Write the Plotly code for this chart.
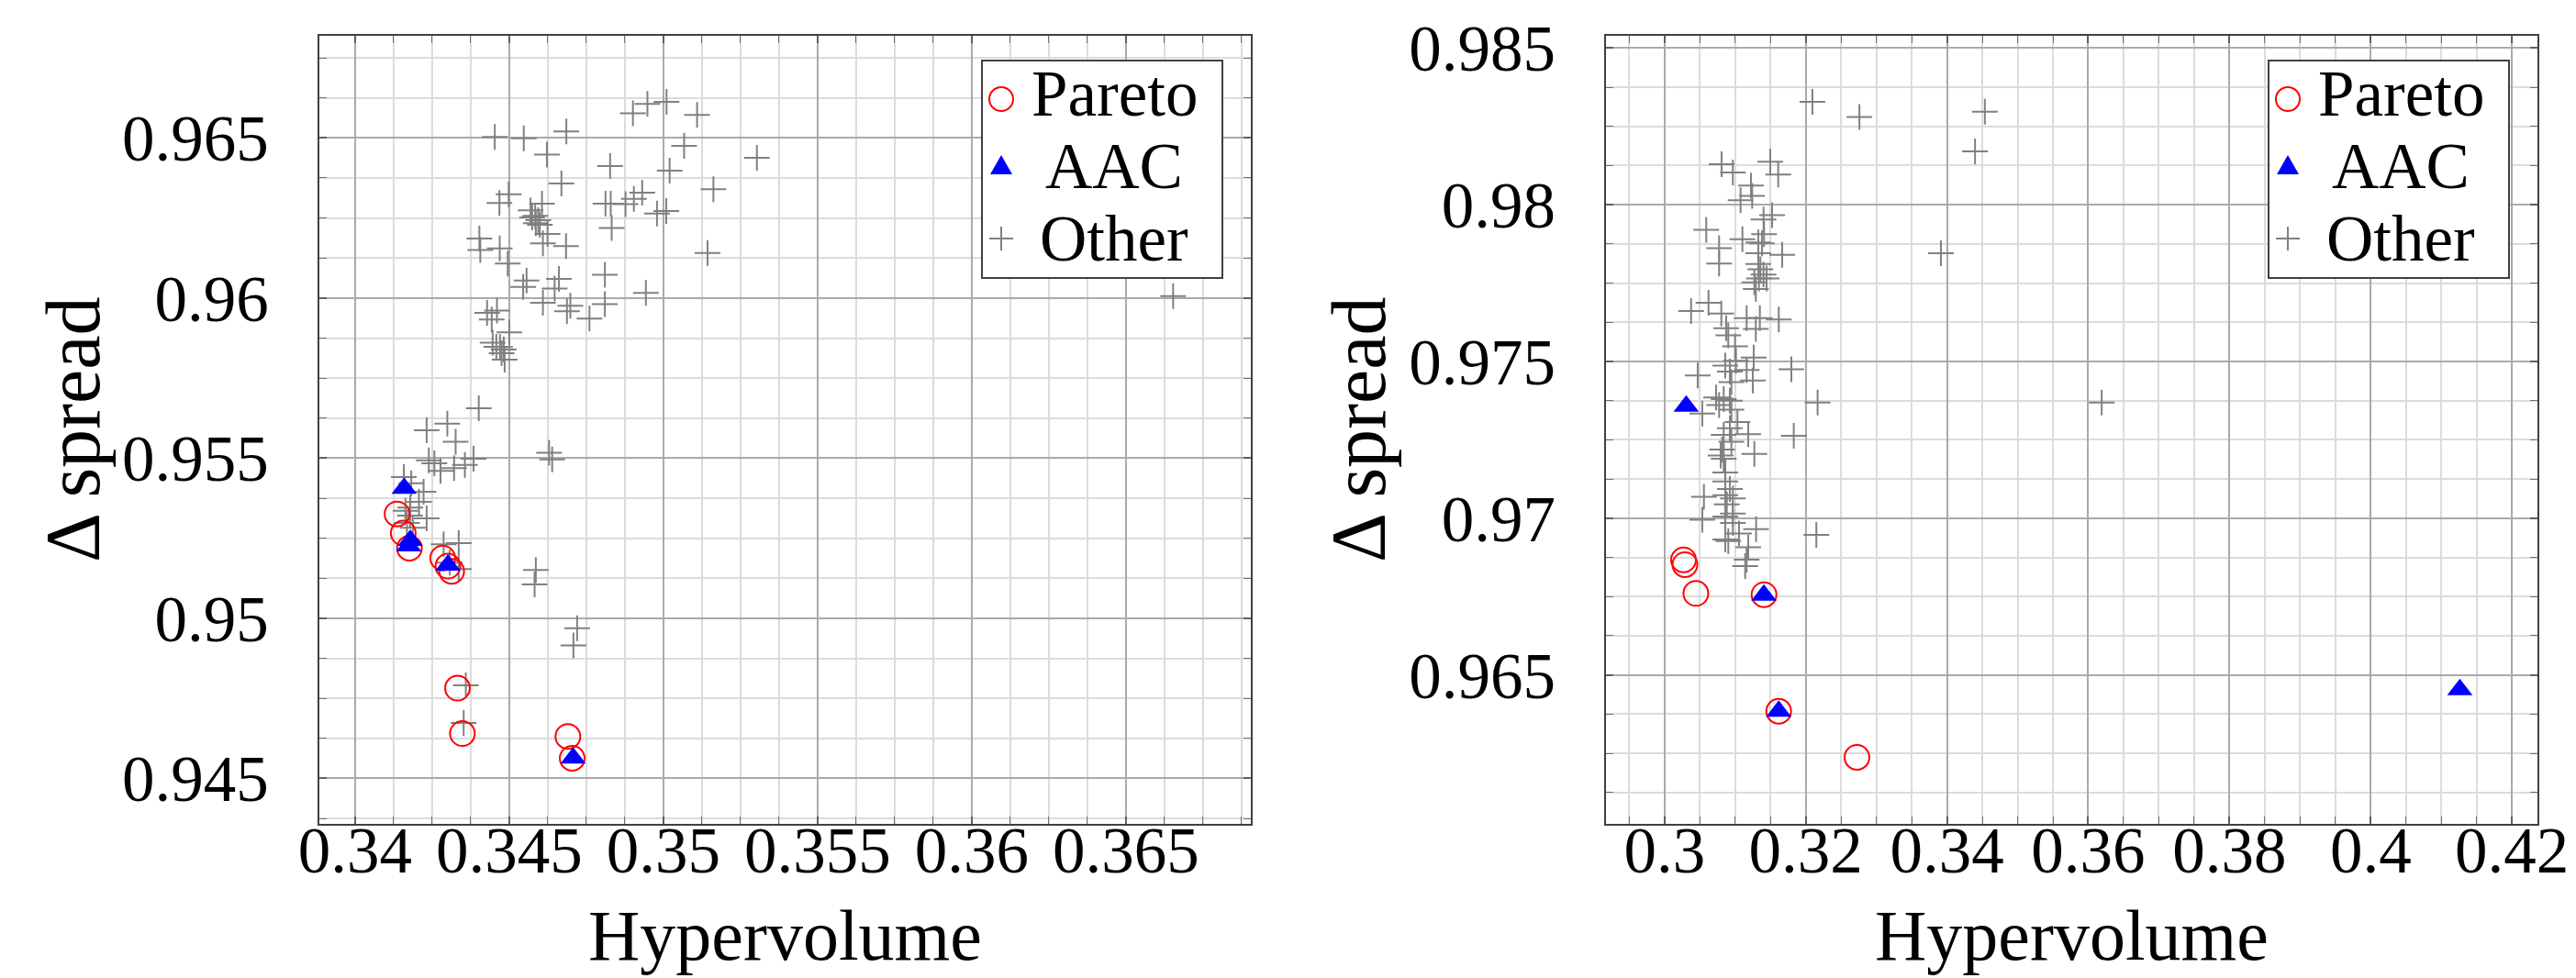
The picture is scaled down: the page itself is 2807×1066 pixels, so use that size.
import plotly.graph_objects as go

# ---------------- data ----------------
# Left panel
left_pareto_x = [0.34136, 0.34156, 0.34176, 0.34284, 0.34301, 0.34313, 0.34332, 0.34348, 0.34690, 0.34704]
left_pareto_y = [0.95326, 0.95266, 0.95219, 0.95188, 0.95163, 0.95147, 0.94782, 0.94640, 0.94631, 0.94563]

left_aac_x = [0.34159, 0.34179, 0.34174, 0.34301, 0.34707]
left_aac_y = [0.95406, 0.95243, 0.95226, 0.95166, 0.94564]

left_other = [
    (0.34901, 0.96577), (0.34948, 0.96606), (0.35010, 0.96613), (0.35109, 0.96572),
    (0.35067, 0.96475), (0.35303, 0.96438), (0.34827, 0.96412), (0.35020, 0.96398),
    (0.35162, 0.96340), (0.34453, 0.96503), (0.34547, 0.96499), (0.34685, 0.96520),
    (0.34622, 0.96448), (0.34669, 0.96358), (0.34498, 0.96324), (0.34468, 0.96297),
    (0.34606, 0.96295), (0.34569, 0.96274), (0.34584, 0.96257), (0.34594, 0.96243),
    (0.34599, 0.96229), (0.34624, 0.96200), (0.34609, 0.96171), (0.34684, 0.96162),
    (0.34812, 0.96295), (0.34829, 0.96295), (0.34877, 0.96293), (0.34904, 0.96310),
    (0.34931, 0.96329), (0.34979, 0.96264), (0.35009, 0.96272), (0.34832, 0.96219),
    (0.35143, 0.96141), (0.34403, 0.96186), (0.34406, 0.96150), (0.34469, 0.96155),
    (0.34495, 0.96108), (0.34556, 0.96055), (0.34545, 0.96035), (0.34661, 0.96060),
    (0.34647, 0.96030), (0.34810, 0.96073), (0.34943, 0.96016), (0.34609, 0.95985),
    (0.34698, 0.95976), (0.34687, 0.95959), (0.34810, 0.95981), (0.34760, 0.95936),
    (0.34428, 0.95954), (0.34460, 0.95961), (0.34443, 0.95933), (0.34500, 0.95893),
    (0.34446, 0.95861), (0.34470, 0.95847), (0.34475, 0.95828), (0.34485, 0.95808),
    (0.34458, 0.95848), (0.34482, 0.95839), (0.34574, 0.96252), (0.34586, 0.96234),
    (0.34401, 0.95656), (0.34299, 0.95608), (0.34232, 0.95587), (0.34326, 0.95551),
    (0.34239, 0.95493), (0.34257, 0.95484), (0.34277, 0.95460), (0.34384, 0.95498),
    (0.34356, 0.95479), (0.34321, 0.95469), (0.34629, 0.95517), (0.34639, 0.95496),
    (0.34158, 0.95441), (0.34182, 0.95422), (0.34222, 0.95395), (0.34207, 0.95364),
    (0.34163, 0.95336), (0.34178, 0.95321), (0.34232, 0.95312), (0.34168, 0.95298),
    (0.34287, 0.95231), (0.34336, 0.95235), (0.34307, 0.95174), (0.34336, 0.95154),
    (0.34586, 0.95151), (0.34582, 0.95106), (0.34720, 0.94969), (0.34708, 0.94915),
    (0.34359, 0.94791), (0.34352, 0.94673), (0.34179, 0.95346), (0.34187, 0.95283),
    (0.36653, 0.96006),
]

# Right panel
right_pareto_x = [0.30269, 0.30289, 0.30444, 0.31409, 0.31617, 0.32725]
right_pareto_y = [0.96867, 0.96852, 0.96760, 0.96756, 0.96384, 0.96237]

right_aac_x = [0.30307, 0.31407, 0.31617, 0.41262]
right_aac_y = [0.97357, 0.96754, 0.96384, 0.96453]

right_other = [
    (0.32094, 0.98328), (0.32760, 0.98280), (0.34536, 0.98297), (0.34397, 0.98170),
    (0.33914, 0.97845), (0.32168, 0.97369), (0.31830, 0.97263), (0.31796, 0.97475),
    (0.36191, 0.97369), (0.32150, 0.96947), (0.31297, 0.96965), (0.31272, 0.97205),
    (0.31185, 0.97268), (0.31033, 0.97307), (0.30808, 0.98129), (0.30968, 0.98103),
    (0.31497, 0.98137), (0.31610, 0.98096), (0.31224, 0.98061), (0.31241, 0.98028),
    (0.31077, 0.98014), (0.31523, 0.97967), (0.31402, 0.97953), (0.30591, 0.97920),
    (0.31103, 0.97890), (0.31410, 0.97906), (0.31328, 0.97880), (0.31380, 0.97877),
    (0.31666, 0.97840), (0.30773, 0.97861), (0.30773, 0.97812), (0.31328, 0.97845),
    (0.31328, 0.97811), (0.31358, 0.97794), (0.31402, 0.97777), (0.31337, 0.97765),
    (0.31272, 0.97752), (0.31293, 0.97731), (0.31445, 0.97765), (0.30623, 0.97687),
    (0.30376, 0.97661), (0.30804, 0.97653), (0.31163, 0.97638), (0.31350, 0.97638),
    (0.31618, 0.97634), (0.31293, 0.97604), (0.30873, 0.97606), (0.30903, 0.97583),
    (0.30999, 0.97548), (0.30860, 0.97487), (0.30925, 0.97468), (0.31012, 0.97502),
    (0.31163, 0.97473), (0.31263, 0.97512), (0.30470, 0.97455), (0.30947, 0.97434),
    (0.31250, 0.97439), (0.30535, 0.97334), (0.30730, 0.97385), (0.30838, 0.97380),
    (0.30925, 0.97375), (0.30773, 0.97361), (0.30947, 0.97346), (0.30925, 0.97287),
    (0.30838, 0.97266), (0.30947, 0.97244), (0.30817, 0.97219), (0.30795, 0.97200),
    (0.30838, 0.97190), (0.30860, 0.97146), (0.30860, 0.97117), (0.30925, 0.97093),
    (0.30860, 0.97073), (0.30968, 0.97063), (0.30558, 0.97068), (0.30882, 0.97044),
    (0.30968, 0.97015), (0.30860, 0.97005), (0.30535, 0.96995), (0.30968, 0.96985),
    (0.31055, 0.96951), (0.30903, 0.96927), (0.31185, 0.96907), (0.31163, 0.96868),
    (0.31142, 0.96847), (0.30860, 0.96932),
]

# Tick labels
left_xticks = [0.34, 0.345, 0.35, 0.355, 0.36, 0.365]
left_xticktext = ["0.34", "0.345", "0.35", "0.355", "0.36", "0.365"]
left_yticks = [0.945, 0.95, 0.955, 0.96, 0.965]
left_yticktext = ["0.945", "0.95", "0.955", "0.96", "0.965"]
right_xticks = [0.3, 0.32, 0.34, 0.36, 0.38, 0.4, 0.42]
right_xticktext = ["0.3", "0.32", "0.34", "0.36", "0.38", "0.4", "0.42"]
right_yticks = [0.965, 0.97, 0.975, 0.98, 0.985]
right_yticktext = ["0.965", "0.97", "0.975", "0.98", "0.985"]

legend_names = ["Pareto", "AAC", "Other"]
x_title = "Hypervolume"
y_title = "\u0394 spread"

# ---------------- styling ----------------
W, H = 2807, 1066
FONT = "Liberation Serif"
FS = 71
GRAY = "#808080"
MAJOR_GRID = "#aaaaaa"
MINOR_GRID = "#dcdcdc"
AXIS_COL = "#404040"


def px(x):
    return x / W


def py(y):
    return 1 - y / H


fig = go.Figure()


def add_panel(xa, ya, other, par_x, par_y, aac_x, aac_y):
    fig.add_trace(go.Scatter(
        x=[p[0] for p in other], y=[p[1] for p in other], mode="markers",
        name=legend_names[2], xaxis=xa, yaxis=ya, showlegend=False,
        marker=dict(symbol="cross-thin", size=20, color=GRAY,
                    line=dict(color=GRAY, width=2))))
    fig.add_trace(go.Scatter(
        x=par_x, y=par_y, mode="markers", name=legend_names[0],
        xaxis=xa, yaxis=ya, showlegend=False,
        marker=dict(symbol="circle-open", size=27, color="red",
                    line=dict(color="red", width=2))))
    fig.add_trace(go.Scatter(
        x=aac_x, y=aac_y, mode="markers", name=legend_names[1],
        xaxis=xa, yaxis=ya, showlegend=False,
        marker=dict(symbol="triangle-up", size=24, color="blue",
                    line=dict(width=0))))


add_panel("x", "y", left_other, left_pareto_x, left_pareto_y, left_aac_x, left_aac_y)
add_panel("x2", "y2", right_other, right_pareto_x, right_pareto_y, right_aac_x, right_aac_y)


def axis(domain, rng, tickvals, ticktext, minor_dtick, minor_tick0, anchor, standoff):
    return dict(
        domain=domain, range=rng, anchor=anchor, automargin=False,
        tickmode="array", tickvals=tickvals, ticktext=ticktext,
        ticks="inside", ticklen=8, tickwidth=1.5, tickcolor="#606060",
        showline=True, linecolor=AXIS_COL, linewidth=2, mirror="allticks",
        showgrid=True, gridcolor=MAJOR_GRID, gridwidth=1.5,
        zeroline=False,
        tickfont=dict(family=FONT, size=FS, color="black"),
        ticklabelstandoff=standoff,
        minor=dict(tickmode="linear", tick0=minor_tick0, dtick=minor_dtick,
                   ticks="inside", ticklen=8, tickwidth=1.2, tickcolor="#707070",
                   showgrid=True, gridcolor=MINOR_GRID, gridwidth=1.5),
    )


top, bot = 39, 897.5
fig.update_layout(
    template="none",
    width=W, height=H, autosize=False,
    margin=dict(l=0, r=0, t=0, b=0, pad=0),
    paper_bgcolor="white", plot_bgcolor="white",
    showlegend=False,
    xaxis=axis([px(348), px(1363)], [0.33884, 0.36905], left_xticks, left_xticktext,
               0.00125, 0.34, "y", -34),
    yaxis=axis([py(bot), py(top)], [0.943596, 0.968189], left_yticks, left_yticktext,
               0.00125, 0.945, "x", 39),
    xaxis2=axis([px(1750.3), px(2765.2)], [0.29175, 0.42364], right_xticks, right_xticktext,
                0.005, 0.3, "y2", -34),
    yaxis2=axis([py(bot), py(top)], [0.960263, 0.985389], right_yticks, right_yticktext,
                0.00125, 0.965, "x2", 39),
)

annotations = []
shapes = []

# axis titles
for cx in [855.5, 2257.75]:
    annotations.append(dict(x=px(cx), y=py(1019), xref="paper", yref="paper",
                            text=x_title, showarrow=False, xanchor="center", yanchor="middle",
                            font=dict(family=FONT, size=78, color="black")))
for cx in [80, 1481]:
    annotations.append(dict(x=px(cx), y=py(468), xref="paper", yref="paper",
                            text=y_title, showarrow=False, textangle=-90,
                            xanchor="center", yanchor="middle",
                            font=dict(family=FONT, size=84, color="black")))

# legends (drawn as shapes + text)
for lx in [1070, 2472]:
    bx0, bx1, by0, by1 = lx, lx + 262, 66, 303
    shapes.append(dict(type="rect", xref="paper", yref="paper",
                       x0=px(bx0), x1=px(bx1), y0=py(by1), y1=py(by0),
                       line=dict(color=AXIS_COL, width=2), fillcolor="white", layer="above"))
    mx = lx + 21
    # Pareto circle
    cy = 108
    shapes.append(dict(type="circle", xref="paper", yref="paper",
                       x0=px(mx - 13), x1=px(mx + 13), y0=py(cy + 13), y1=py(cy - 13),
                       line=dict(color="red", width=2), layer="above"))
    # AAC triangle
    cy = 182
    path = "M {:.6f},{:.6f} L {:.6f},{:.6f} L {:.6f},{:.6f} Z".format(
        px(mx - 12), py(cy + 8), px(mx + 12), py(cy + 8), px(mx), py(cy - 13))
    shapes.append(dict(type="path", xref="paper", yref="paper", path=path,
                       fillcolor="blue", line=dict(color="blue", width=0), layer="above"))
    # Other plus
    cy = 260
    shapes.append(dict(type="line", xref="paper", yref="paper",
                       x0=px(mx - 13), x1=px(mx + 13), y0=py(cy), y1=py(cy),
                       line=dict(color=GRAY, width=2), layer="above"))
    shapes.append(dict(type="line", xref="paper", yref="paper",
                       x0=px(mx), x1=px(mx), y0=py(cy - 13), y1=py(cy + 13),
                       line=dict(color=GRAY, width=2), layer="above"))
    tx = lx + 144
    for name, ty in zip(legend_names, [102, 181, 260]):
        annotations.append(dict(x=px(tx), y=py(ty), xref="paper", yref="paper",
                                text=name, showarrow=False, xanchor="center", yanchor="middle",
                                font=dict(family=FONT, size=71, color="black")))

fig.update_layout(annotations=annotations, shapes=shapes)
fig.write_html(
    "out.html",
    config={"displayModeBar": False},
    post_script="document.body.style.margin='0';document.body.style.overflow='hidden';",
)
